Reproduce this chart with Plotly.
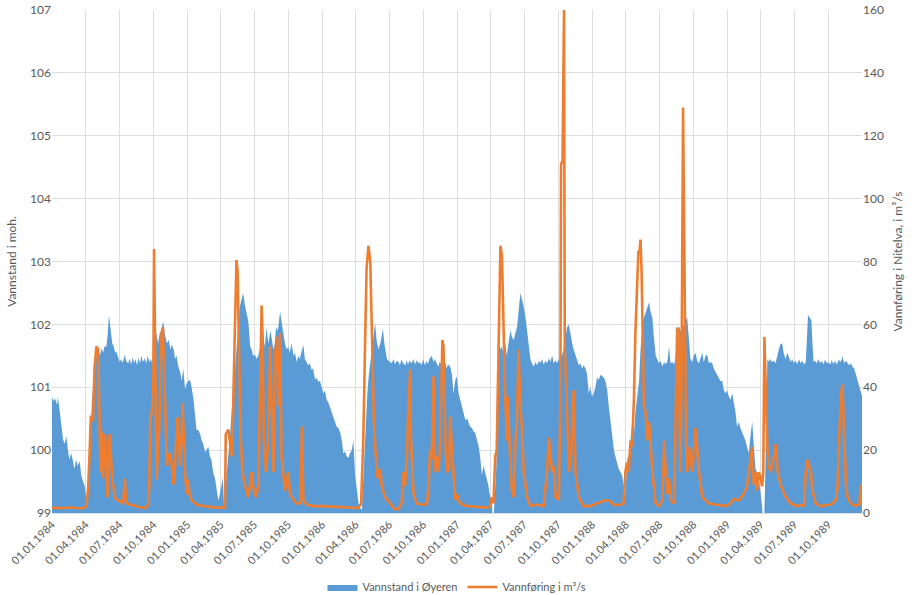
import pandas as pd
import plotly.graph_objects as go

# ---------------- data ----------------
# Water level in Øyeren (m a.s.l.); x = days after 01.01.1984
level_day = [
    0, 4, 8, 14, 16, 20, 25, 30, 34, 39, 43, 47, 52, 57, 61, 65, 69, 75, 79, 84, 89, 92, 96,
    99, 103, 108, 114, 119, 125, 130, 134, 138, 142, 147, 150, 154, 158, 163, 167, 171, 174, 179, 183, 187, 191, 197, 200,
    206, 210, 214, 218, 222, 226, 230, 234, 238, 242, 246, 251, 255, 259, 263, 267, 271,
    275, 279, 283, 287, 291, 295, 301, 305, 311, 316, 320, 324, 329, 333, 337, 341, 347, 351, 355, 360, 364, 368, 373, 376,
    383, 387, 391, 396, 401, 404, 409, 414, 418, 423, 427, 431, 436, 441, 446, 450, 454, 459, 462, 465, 469,
    472, 477, 481, 486, 490, 495, 499, 504, 508, 513, 517, 522, 526, 531, 536, 540, 544, 549, 553, 558, 562, 566, 572,
    576, 580, 585, 591, 594, 599, 603, 606, 611, 617, 622, 626, 630, 635, 639, 643, 648, 653, 657, 662, 666, 670, 674,
    680, 684, 688, 693, 697, 702, 706, 712, 716,
    720, 725, 729, 734, 738, 743, 748, 752, 757, 761, 765, 770, 775, 780, 784, 788, 793, 797, 802, 806, 811, 815, 820,
    824, 829, 833, 838,
    841, 845, 849, 853, 857, 861, 865, 869, 874, 878, 883, 888, 890, 895, 899, 906, 910, 914, 919, 924, 928, 932, 937,
    941, 945, 950, 956, 959, 963, 967, 973, 978, 982, 986, 991, 995, 999, 1004, 1009, 1013, 1017, 1021, 1027, 1032,
    1036, 1040, 1045, 1049, 1054, 1058, 1064, 1067, 1071, 1077, 1082,
    1086, 1091, 1095, 1100, 1104, 1109, 1113, 1118, 1123, 1127, 1131, 1136, 1140, 1145, 1150, 1154, 1158, 1163, 1167,
    1172, 1176, 1180, 1184, 1187, 1190, 1193, 1194, 1197,
    1202, 1205, 1208, 1213, 1216, 1221, 1226, 1230, 1235, 1240, 1244, 1249, 1253, 1258, 1262, 1267, 1271, 1276, 1281,
    1285, 1290, 1294, 1298, 1303, 1308, 1312, 1317, 1321, 1325, 1330, 1335, 1339, 1344, 1348, 1353, 1357, 1362, 1366,
    1371, 1375, 1379, 1384, 1389, 1393, 1398, 1403, 1407, 1411, 1416, 1420, 1425, 1429, 1434, 1438, 1443, 1447,
    1452, 1456, 1461, 1465, 1470, 1474, 1479, 1484, 1488, 1493, 1497, 1502, 1506, 1511, 1515, 1520, 1524, 1529, 1533,
    1538, 1542, 1546, 1550, 1553,
    1556, 1561, 1565, 1569, 1572, 1575, 1578, 1583, 1588, 1592, 1597, 1601, 1606, 1610, 1615, 1619, 1624, 1628, 1633,
    1637, 1642, 1646, 1651, 1656, 1660, 1665, 1669, 1673, 1678, 1683, 1687, 1691, 1696, 1700, 1705, 1709, 1714, 1718,
    1723, 1727, 1732, 1736, 1741, 1745, 1750, 1754, 1759, 1763, 1768, 1772, 1777, 1781, 1786, 1790, 1795, 1799, 1804,
    1808, 1813,
    1817, 1822, 1826, 1831, 1835, 1840, 1844, 1849, 1853, 1858, 1862, 1867, 1871, 1876, 1880, 1885, 1889, 1894, 1898,
    1903, 1907, 1912, 1915, 1918, 1921, 1923, 1926, 1929, 1932,
    1935, 1938, 1943, 1947, 1952, 1957, 1961, 1966, 1970, 1975, 1979, 1984, 1989, 1993, 1998, 2002, 2007, 2011, 2016,
    2021, 2025, 2030, 2034, 2039, 2042, 2045, 2050, 2054, 2057, 2060, 2064, 2069, 2073, 2078, 2082, 2087, 2091, 2096,
    2100, 2105, 2109, 2114, 2118, 2123, 2128, 2132, 2137, 2138, 2143, 2148, 2152, 2157, 2161, 2166, 2170, 2175, 2179,
    2184, 2188, 2191,
]
level_moh = [
    100.85, 100.78, 100.82, 100.72, 100.85, 100.65, 100.5, 100.17, 100.1, 100.22, 100.0, 99.85, 99.95, 99.8, 99.7, 99.85, 99.75, 99.82, 99.6, 99.5, 99.42, 99.25, 99.1,
    99.5, 100.2, 100.8, 101.2, 101.45, 101.6, 101.5, 101.62, 101.55, 101.65, 101.65, 101.8, 102.14, 101.95, 101.7, 101.65, 101.55, 101.57, 101.45, 101.4, 101.45, 101.38, 101.52, 101.42,
    101.38, 101.45, 101.36, 101.48, 101.38, 101.45, 101.35, 101.47, 101.38, 101.5, 101.4, 101.46, 101.38, 101.5, 101.4, 101.45, 101.38,
    101.6, 101.97, 101.8, 101.7, 101.85, 101.9, 102.05, 101.85, 101.7, 101.75, 101.6, 101.68, 101.6, 101.45, 101.5, 101.35, 101.23, 101.1, 101.3, 100.97, 101.05, 101.1, 101.12, 101.05,
    100.8, 100.5, 100.32, 100.32, 100.25, 100.17, 100.1, 99.97, 100.0, 100.05, 99.9, 99.85, 99.65, 99.55, 99.35, 99.2, 99.3, 99.45, 99.56, 99.15, 99.27,
    99.6, 99.9, 100.2, 100.6, 101.0, 101.3, 101.6, 101.95, 102.28, 102.4, 102.5, 102.3, 102.2, 102.05, 101.65, 101.6, 101.5, 101.52, 101.45, 101.5, 101.6, 101.7, 101.75,
    101.65, 101.95, 101.7, 101.9, 101.75, 101.6, 101.7, 101.95, 101.9, 102.2, 102.0, 101.85, 101.7, 101.6, 101.65, 101.55, 101.7, 101.5, 101.55, 101.4, 101.5, 101.45, 101.55,
    101.67, 101.45, 101.4, 101.35, 101.38, 101.28, 101.3, 101.12, 101.15,
    101.09, 101.1, 101.0, 100.9, 100.95, 100.8, 100.75, 100.68, 100.59, 100.55, 100.45, 100.37, 100.35, 100.27, 100.15, 99.95, 99.98, 99.9, 99.88, 99.95, 100.0, 100.16, 99.6,
    99.4, 99.16, 99.08, 99.05,
    99.4, 100.0, 100.5, 100.9, 101.2, 101.4, 101.56, 101.8, 102.02, 101.75, 101.6, 101.7, 101.75, 101.93, 101.7, 101.45, 101.42, 101.4, 101.38, 101.45, 101.36, 101.42, 101.4,
    101.35, 101.44, 101.38, 101.35, 101.43, 101.36, 101.42, 101.38, 101.45, 101.36, 101.43, 101.38, 101.4, 101.35, 101.44, 101.35, 101.42, 101.37, 101.45, 101.5, 101.4,
    101.45, 101.38, 101.33, 101.4, 101.35, 101.3, 101.4, 101.3, 101.36, 101.33, 101.2,
    100.9, 101.12, 101.17, 100.9, 100.8, 100.7, 100.6, 100.48, 100.5, 100.42, 100.37, 100.35, 100.3, 100.27, 100.15, 100.06, 99.9, 99.6, 99.75,
    99.65, 99.57, 99.45, 99.3, 99.2, 99.1, 98.9, 98.8, 99.2,
    99.75, 100.8, 101.75, 101.6, 101.65, 101.55, 101.7, 101.5, 101.7, 101.91, 101.8, 101.75, 101.85, 101.96, 102.2, 102.5, 102.4, 102.28, 102.1,
    101.91, 101.7, 101.45, 101.38, 101.33, 101.4, 101.35, 101.42, 101.38, 101.45, 101.36, 101.42, 101.38, 101.46, 101.4, 101.5, 101.38, 101.43, 101.38,
    101.45, 101.4, 101.5, 101.6, 101.8, 101.95, 102.0, 101.8, 101.7, 101.6, 101.5, 101.45, 101.35, 101.38, 101.3, 101.35, 101.3, 101.22,
    100.9, 101.0, 100.85, 100.9, 101.0, 101.15, 101.12, 101.2, 101.17, 101.15, 101.1, 100.95, 100.7, 100.45, 100.16, 100.0, 99.9, 99.8, 99.7,
    99.65, 99.6, 99.45, 99.27, 99.5,
    99.85, 99.95, 100.2, 100.4, 100.45, 100.3, 100.6, 100.85, 101.1, 101.6, 101.97, 102.1, 102.2, 102.28, 102.35, 102.2, 102.1, 101.8, 101.5,
    101.45, 101.38, 101.42, 101.33, 101.4, 101.36, 101.42, 101.65, 101.38, 101.4, 101.36, 101.5, 101.9, 101.97, 101.9, 101.95, 102.0, 102.05, 102.12,
    101.7, 101.45, 101.4, 101.5, 101.55, 101.42, 101.38, 101.45, 101.55, 101.4, 101.5, 101.52, 101.38, 101.4, 101.38, 101.3, 101.25, 101.2, 101.15,
    101.1, 101.1,
    100.96, 100.9, 100.95, 100.85, 100.8, 100.9, 100.75, 100.6, 100.37, 100.45, 100.35, 100.27, 100.2, 100.15, 100.05, 99.95, 100.2, 100.45, 100.1,
    99.7, 99.65, 99.6, 99.4, 99.27, 99.1, 98.8, 98.8, 99.5, 100.8,
    101.44, 101.41, 101.45, 101.4, 101.42, 101.38, 101.5, 101.6, 101.68, 101.7, 101.55, 101.45, 101.55, 101.48, 101.4, 101.45, 101.38, 101.42, 101.37,
    101.44, 101.38, 101.42, 101.36, 101.4, 101.8, 102.15, 102.1, 102.07, 101.7, 101.4, 101.42, 101.38, 101.45, 101.38, 101.42, 101.36, 101.44, 101.38,
    101.4, 101.36, 101.43, 101.37, 101.42, 101.36, 101.44, 101.4, 101.45, 101.5, 101.38, 101.42, 101.38, 101.35, 101.38, 101.32, 101.3, 101.2, 101.1,
    101.0, 100.9, 100.86,
]

# Discharge in Nitelva (m³/s); x = days after 01.01.1984
flow_day = [
    0, 16, 33, 49, 65, 81, 93, 98, 102, 105, 108, 111, 115, 120, 125, 127, 131, 134, 138, 144, 150, 156, 163, 170, 179,
    187, 192, 197, 200, 203, 215, 233, 251, 260, 263,
    266, 270, 274, 276, 279, 283, 287, 290, 296, 300, 306, 311, 314, 320, 324, 329, 333, 338, 341, 347, 351, 353, 358,
    360, 365, 368, 372, 377, 391, 409, 445, 468,
    470, 477, 481, 486, 490, 495, 499, 502, 506, 510, 515, 522, 531, 540, 544, 552, 558, 562, 567, 570, 573, 579, 585,
    590, 594, 599, 603, 608, 612, 617, 621, 626, 630, 635, 639, 644, 653, 662, 672, 676, 680, 689, 707, 734, 780, 829,
    836, 842, 847, 851, 856, 861, 863, 867, 871, 876, 881, 888, 892, 901, 915, 928, 937, 946, 951, 955, 960, 964, 969,
    971, 978, 987, 1000, 1014, 1018, 1023, 1027, 1032, 1036, 1041, 1046, 1050, 1056, 1059, 1064, 1068, 1074, 1077,
    1082, 1086, 1091, 1095, 1104, 1122, 1176, 1185, 1190, 1194,
    1199, 1203, 1208, 1213, 1217, 1222, 1226, 1231, 1233, 1240, 1244, 1249, 1253, 1258, 1262, 1267, 1271, 1276, 1285,
    1294, 1312, 1330, 1339, 1344, 1348, 1353, 1357, 1362, 1371, 1375, 1377, 1381, 1385, 1387, 1393, 1398, 1404, 1411,
    1416, 1425, 1438, 1456, 1473, 1495, 1506, 1522, 1541, 1546,
    1551, 1555, 1560, 1565, 1569, 1574, 1578, 1583, 1586, 1589, 1592, 1595, 1599, 1601, 1606, 1610, 1615, 1619, 1624,
    1633, 1642, 1651, 1656, 1660, 1665, 1669, 1674, 1683, 1688, 1691, 1696, 1697, 1700, 1703, 1707, 1712, 1715, 1718,
    1723, 1727, 1732, 1736, 1741, 1745, 1750, 1759, 1777, 1795, 1822, 1835, 1844, 1858, 1871, 1880, 1888, 1894, 1898,
    1903, 1907, 1912, 1917, 1921, 1924,
    1927, 1932, 1935, 1939, 1944, 1953, 1958, 1963, 1972, 1985, 1998, 2016, 2034, 2039, 2043, 2048, 2053, 2057, 2066,
    2080, 2107, 2120, 2125, 2129, 2134, 2138, 2143, 2148, 2152, 2161, 2175, 2184, 2188, 2190, 2191,
]
flow_m3s = [
    1.6, 1.7, 1.5, 1.8, 1.6, 1.5, 2, 8.5, 20, 31, 29, 30, 46, 53, 52, 34, 13, 26, 11, 25, 5, 25, 11, 5, 4,
    3.5, 3, 11, 4, 3, 2.5, 2, 1.5, 2.5, 8,
    30, 32, 40, 84, 50, 10.6, 20, 26.5, 57, 59, 35, 15, 18, 19, 15, 9, 15, 30, 30, 15, 25, 35, 20,
    12, 6, 10.6, 6, 4.2, 2.7, 2.2, 1.7, 1.7,
    25, 26.5, 23, 18, 34, 60, 80.5, 77, 45, 25, 13, 8.5, 5, 13, 8.5, 5, 8.5, 34, 66, 55, 23, 13, 23,
    53, 34, 13, 50, 56, 34, 57, 18, 13, 7, 10, 13, 6, 4.2, 3, 3, 27.5, 4, 2.7, 2.2, 2.2, 1.9, 1.6,
    3, 23, 55, 78, 85, 80, 69, 50, 28.6, 18, 11, 14, 8.5, 5, 3, 1.2, 1.2, 3, 13, 8.5, 18, 34, 45.6,
    23, 6, 3, 2.7, 2.7, 8, 20, 17, 43.5, 13, 18, 13, 23, 55, 53, 23, 13, 14, 30.7,
    20, 13, 4.2, 6, 3, 2.2, 1.7, 2.2, 5, 3,
    18, 20, 55, 85, 82, 50, 36, 23, 37, 15.5, 7, 5, 21, 31.5, 52, 34, 27, 13, 5,
    2.2, 2.7, 2.2, 13, 24, 20, 13, 15, 5, 4.2, 34, 111, 112, 160, 52, 34, 13, 18, 39,
    13, 5, 2.2, 2.2, 3, 4, 4, 2.5, 2.7, 3,
    13, 16, 13, 23, 21, 36, 57, 76, 83, 83, 87, 76, 55, 34, 32, 23, 29, 21, 13,
    3, 2.2, 4, 23, 13, 6, 11, 4, 3, 39, 59, 57, 34, 13, 45, 129, 55, 23, 13,
    21, 18, 13, 19, 27, 21, 13, 5, 3, 2.7, 2.2, 3, 4.5, 4, 6, 8.5, 15, 21, 9,
    13, 7, 13, 11, 8.5, 13,
    56, 34, 21, 15, 13, 18, 22, 13, 8.5, 5, 3, 2.2, 2.5, 13, 17, 15, 13, 7, 3,
    2.2, 2.7, 4, 8.5, 23, 37, 41, 23, 8.5, 5, 3, 2.2, 3, 9, 3, 2.2,
]

start_date = "1984-01-01"
end_date = "1989-12-31"
level_name = "Vannstand i Øyeren"
flow_name = "Vannføring i m³/s"
left_title = "Vannstand i moh."
right_title = "Vannføring i Nitelva, i m³/s"

assert len(level_day) == len(level_moh), (len(level_day), len(level_moh))
assert len(flow_day) == len(flow_m3s), (len(flow_day), len(flow_m3s))

origin = pd.Timestamp(start_date)
level_dates = origin + pd.to_timedelta(level_day, unit="D")
flow_dates = origin + pd.to_timedelta(flow_day, unit="D")

BLUE = "#5B9BD5"
ORANGE = "#ED7D31"
GRID = "#DEDEDE"
TXT = "#595959"
FONT = "Lato, 'Open Sans', sans-serif"

fig = go.Figure()
fig.add_trace(go.Scatter(
    x=level_dates, y=level_moh, name=level_name, mode="lines",
    fill="tozeroy", fillcolor=BLUE, line=dict(width=0, color=BLUE),
))
fig.add_trace(go.Scatter(
    x=flow_dates, y=flow_m3s, name=flow_name, mode="lines",
    line=dict(width=2.6, color=ORANGE), yaxis="y2",
))

fig.update_layout(
    width=916, height=595,
    margin=dict(l=52, r=54, t=10, b=82, autoexpand=False),
    paper_bgcolor="white", plot_bgcolor="white",
    font=dict(family=FONT, size=12, color=TXT),
    showlegend=True,
    legend=dict(orientation="h", x=0.5, xanchor="center", y=-0.147, yanchor="middle",
                yref="paper", font=dict(size=11, color=TXT)),
    xaxis=dict(
        type="date", range=[start_date, end_date],
        tick0=start_date, dtick="M3", tickformat="%d.%m.%Y", tickangle=-45,
        showgrid=True, gridcolor=GRID, gridwidth=1,
        showline=True, linecolor=GRID, ticks="", automargin=False,
        tickfont=dict(size=11, color=TXT),
    ),
    yaxis=dict(
        range=[99, 107], dtick=1, showgrid=True, gridcolor=GRID, zeroline=False,
        showline=False, ticks="", automargin=False,
        title=dict(text=left_title, standoff=10, font=dict(size=12, color=TXT)),
        tickfont=dict(size=12, color=TXT),
    ),
    yaxis2=dict(
        range=[0, 160], dtick=20, overlaying="y", side="right", showgrid=False,
        zeroline=False, showline=False, ticks="", automargin=False,
        title=dict(text=right_title, standoff=10, font=dict(size=12, color=TXT)),
        tickfont=dict(size=12, color=TXT),
    ),
)

fig.write_html("out.html")
